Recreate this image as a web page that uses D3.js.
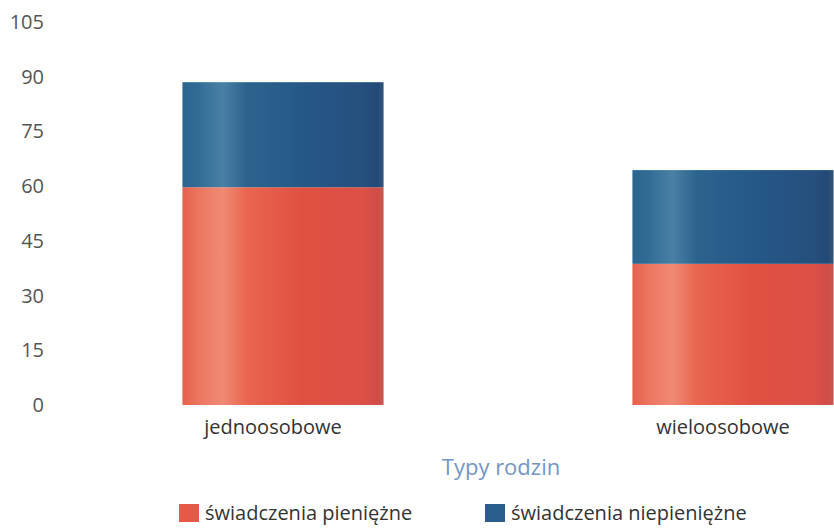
<!DOCTYPE html>
<html><head><meta charset="utf-8">
<script src="https://cdn.jsdelivr.net/npm/d3@7"></script>
<style>body{margin:0;background:#fff}svg{display:block}text{font-family:"Open Sans",sans-serif}</style>
</head><body><svg id="c" width="834" height="529"></svg>
<script>
const categories = ["jednoosobowe", "wieloosobowe"];
const seriesNames = ["świadczenia pieniężne", "świadczenia niepieniężne"];
const pieniezne = [59.7, 38.7];
const niepieniezne = [28.8, 25.7];
const yTicks = [0, 15, 30, 45, 60, 75, 90, 105];
const axisTitle = "Typy rodzin";

const svg = d3.select("#c");
const W = 834, H = 529;
const y = d3.scaleLinear().domain([0, 105]).range([405, 22]);
const x = d3.scaleBand().domain(categories).range([58, 958]).paddingInner(0.553).paddingOuter(0.2765);

const defs = svg.append("defs");
function grad(id, stops) {
  const g = defs.append("linearGradient").attr("id", id).attr("x1", "0%").attr("x2", "100%").attr("y1", "0%").attr("y2", "0%");
  stops.forEach(s => g.append("stop").attr("offset", s[0]).attr("stop-color", s[1]));
}
grad("gr", [["0%", "#e6604b"], ["8%", "#ec7560"], ["20%", "#f08a74"], ["32%", "#e9654f"], ["60%", "#e05042"], ["90%", "#dc5046"], ["97%", "#d04d48"], ["100%", "#c8574f"]]);
grad("gb", [["0%", "#2a6590"], ["8%", "#326c95"], ["20%", "#4a80a5"], ["32%", "#2c638d"], ["60%", "#255887"], ["90%", "#264f7d"], ["97%", "#234a77"], ["100%", "#33557a"]]);
const colors = ["url(#gr)", "url(#gb)"];
const legendColors = ["#e5584a", "#2a5e8c"];

defs.append("clipPath").attr("id", "clip").append("rect").attr("x", 0).attr("y", 0).attr("width", W).attr("height", H);

// y axis labels
svg.append("g").selectAll("text").data(yTicks).join("text")
  .attr("x", 44).attr("y", d => y(d)).attr("dy", "0.35em")
  .attr("text-anchor", "end").attr("font-size", 20).attr("fill", "#555")
  .text(d => d);

const stack = d3.stack().keys([0, 1]).value((d, k) => d[k]);
const rows = categories.map((c, i) => ({ cat: c, 0: pieniezne[i], 1: niepieniezne[i] }));
const stacked = stack(rows);

const gBars = svg.append("g").attr("clip-path", "url(#clip)");
stacked.forEach((layer, li) => {
  gBars.append("g").selectAll("rect").data(layer).join("rect")
    .attr("x", d => x(d.data.cat))
    .attr("width", x.bandwidth())
    .attr("y", d => y(d[1]))
    .attr("height", d => y(d[0]) - y(d[1]))
    .attr("fill", colors[li]);
});

// x labels
svg.append("g").selectAll("text").data(categories).join("text")
  .attr("x", d => x(d) + x.bandwidth() / 2 - 10).attr("y", 434)
  .attr("text-anchor", "middle").attr("font-size", 20).attr("fill", "#333")
  .text(d => d);

svg.append("text").attr("x", 501).attr("y", 475).attr("text-anchor", "middle")
  .attr("font-size", 22).attr("fill", "#7396c4").text(axisTitle);

// legend
const lx = [179, 485];
const lg = svg.append("g").selectAll("g").data(seriesNames).join("g")
  .attr("transform", (d, i) => `translate(${lx[i]},504)`);
lg.append("rect").attr("width", 20).attr("height", 18).attr("fill", (d, i) => legendColors[i]);
lg.append("text").attr("x", 26).attr("y", 9).attr("dy", "0.35em").attr("font-size", 20).attr("fill", "#333").text(d => d);
</script></body></html>
